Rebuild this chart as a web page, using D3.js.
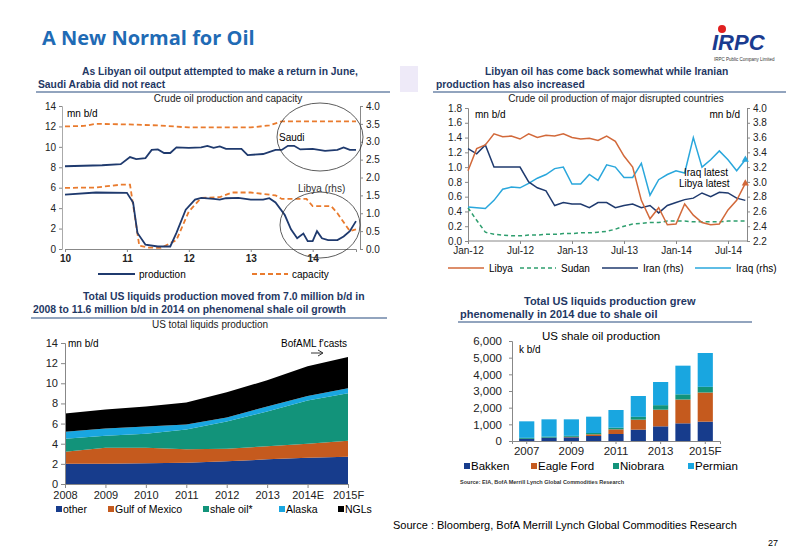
<!DOCTYPE html>
<html><head><meta charset="utf-8">
<script src="https://cdn.jsdelivr.net/npm/d3@7"></script>
<style>body{margin:0;background:#fff}svg{display:block;font-family:"Liberation Sans",Arial,sans-serif}</style>
</head><body><svg id="c" width="800" height="554"></svg>
<script>
const c1Years = [10,11,12,13,14];
const saudiProd = [[10,8.1],[10.3,8.15],[10.6,8.2],[10.9,8.3],[11.05,9.0],[11.15,8.8],[11.3,8.9],[11.4,9.7],[11.5,9.75],[11.6,9.4],[11.7,9.4],[11.8,9.95],[12.0,9.9],[12.2,9.95],[12.3,10.1],[12.4,9.9],[12.5,10.05],[12.6,9.8],[12.85,9.8],[12.95,9.2],[13.2,9.3],[13.4,9.7],[13.5,9.7],[13.6,10.1],[13.7,10.1],[13.8,9.75],[14.0,9.8],[14.2,9.6],[14.4,9.7],[14.5,9.95],[14.6,9.7],[14.7,9.7]];
const saudiCap = [[10,12.0],[10.3,12.05],[10.5,12.25],[11.0,12.2],[11.5,12.1],[12.0,11.9],[12.5,11.9],[13.0,11.9],[13.3,12.1],[13.5,12.5],[14.7,12.5]];
const libyaProd = [[10,1.52],[10.5,1.58],[11.0,1.57],[11.1,1.3],[11.17,0.45],[11.3,0.12],[11.5,0.07],[11.7,0.07],[11.8,0.45],[11.95,1.1],[12.1,1.38],[12.2,1.43],[12.4,1.4],[12.5,1.38],[12.6,1.42],[12.8,1.43],[13.0,1.38],[13.2,1.38],[13.3,1.42],[13.4,1.3],[13.55,0.95],[13.65,0.55],[13.75,0.3],[13.85,0.43],[13.92,0.22],[14.0,0.22],[14.07,0.5],[14.15,0.3],[14.25,0.25],[14.4,0.25],[14.5,0.35],[14.6,0.5],[14.7,0.78]];
const libyaCap = [[10,1.71],[10.5,1.72],[10.9,1.8],[11.05,1.8],[11.2,0.09],[11.35,0.04],[11.55,0.03],[11.8,0.25],[12.0,1.05],[12.2,1.43],[12.5,1.45],[12.7,1.58],[13.0,1.58],[13.4,1.5],[13.5,1.4],[13.9,1.4],[14.0,1.2],[14.3,1.2],[14.4,1.0],[14.6,0.5],[14.7,0.55]];
const c2Ticks = ["Jan-12","Jul-12","Jan-13","Jul-13","Jan-14","Jul-14"];
const libya2 = [0.95,1.25,1.3,1.45,1.41,1.42,1.38,1.45,1.4,1.43,1.42,1.45,1.4,1.38,1.39,1.36,1.42,1.35,1.15,1.0,0.55,0.3,0.45,0.22,0.23,0.5,0.35,0.25,0.22,0.23,0.42,0.55,0.78];
const sudan2 = [0.45,0.28,0.12,0.09,0.08,0.07,0.07,0.08,0.08,0.09,0.09,0.10,0.10,0.11,0.11,0.12,0.13,0.16,0.2,0.23,0.24,0.25,0.25,0.27,0.27,0.27,0.26,0.26,0.26,0.26,0.27,0.27,0.27];
const iran2 = [3.45,3.38,3.5,3.2,3.2,3.2,3.2,3.0,2.92,2.88,2.68,2.72,2.7,2.7,2.65,2.72,2.72,2.65,2.68,2.7,2.65,2.68,2.58,2.68,2.72,2.76,2.78,2.85,2.8,2.86,2.85,2.78,2.75];
const iraq2 = [2.66,2.65,2.64,2.75,2.9,2.93,2.92,2.98,3.05,3.1,3.18,3.2,2.97,2.97,3.1,3.02,3.23,3.2,3.06,3.06,3.25,2.82,3.03,3.1,3.15,3.12,3.6,3.2,3.3,3.42,3.3,3.15,3.3];
const c3Years = ["2008","2009","2010","2011","2012","2013","2014E","2015F"];
const other3 = [2.0,2.0,2.05,2.1,2.25,2.45,2.6,2.7];
const gom3 = [1.2,1.6,1.55,1.35,1.25,1.3,1.4,1.6];
const shale3 = [1.3,1.2,1.4,1.95,2.7,3.45,4.3,4.7];
const alaska3 = [0.7,0.7,0.7,0.5,0.4,0.5,0.45,0.5];
const ngl3 = [1.8,1.9,2.0,2.2,2.5,2.6,2.95,3.1];
const c4Years = ["2007","2008","2009","2010","2011","2012","2013","2014","2015F"];
const bakken4 = [130,200,220,300,420,680,880,1060,1160];
const eagle4 = [0,0,30,100,280,600,1000,1430,1750];
const niob4 = [60,60,60,80,100,170,270,310,340];
const perm4 = [990,1040,990,980,1060,1250,1390,1720,2030];

const svg = d3.select("#c");
const navy="#1f3a6e", orange="#e97b2e";
svg.append("text").attr("x",42).attr("y",45).attr("font-family","'Open Sans',sans-serif").attr("font-weight","bold").attr("font-size",20).attr("fill","#1f6bb5").text("A New Normal for Oil");
svg.append("circle").attr("cx",722).attr("cy",29).attr("r",4).attr("fill","#e02020");
svg.append("text").attr("x",712).attr("y",50).attr("font-family","'Liberation Sans'").attr("font-style","italic").attr("font-weight","bold").attr("font-size",22).attr("fill","#1a3b8f").text("IRPC");
svg.append("text").attr("x",714).attr("y",61).attr("font-size",4.5).attr("fill","#333").text("IRPC Public Company Limited");
svg.append("rect").attr("x",400).attr("y",66).attr("width",18).attr("height",26).attr("fill","#eeeaf8");

function header(lines, x1, x2, yLine, sub, subx, fs){
  lines.forEach(l=>svg.append("text").attr("x",l[0]).attr("y",l[1]).attr("font-weight","bold").attr("font-size",fs||10).attr("fill","#1f3864").text(l[2]));
  svg.append("line").attr("x1",x1).attr("x2",x2).attr("y1",yLine).attr("y2",yLine).attr("stroke","#6e86a8").attr("stroke-width",1.5);
  if(sub) svg.append("text").attr("x",subx).attr("y",yLine+10).attr("text-anchor","middle").attr("font-size",10).attr("fill","#222").text(sub);
}
const axStyle = g=>{g.selectAll("text").attr("font-size",10).attr("fill","#222").attr("font-family","'Liberation Sans',Arial");g.selectAll("path,line").attr("stroke","#888");};

header([[82,75,"As Libyan oil output attempted to make a return in June,"],[38,88,"Saudi Arabia did not react"]],36,390,92,"Crude oil production and capacity",228,10.3);
{
 const x=d3.scaleLinear().domain([10,14.7]).range([65,356]);
 const y=d3.scaleLinear().domain([0,14]).range([249,106]);
 const y2=d3.scaleLinear().domain([0,4]).range([249,106]);
 svg.append("g").attr("transform","translate(62,0)").call(d3.axisLeft(y).tickValues([0,2,4,6,8,10,12,14]).tickSize(3)).call(axStyle).call(g=>g.select(".domain").attr("stroke","#aaa"));
 svg.append("g").attr("transform","translate(360,0)").call(d3.axisRight(y2).tickValues([0,.5,1,1.5,2,2.5,3,3.5,4]).tickFormat(d3.format(".1f")).tickSize(3)).call(axStyle);
 svg.append("g").attr("transform","translate(0,249)").call(d3.axisBottom(x).tickValues(c1Years).tickFormat(d3.format("d")).tickSize(3)).call(axStyle).call(g=>g.selectAll("text").attr("font-weight","bold"));
 const l=d3.line().x(d=>x(d[0])).y(d=>y(d[1]));
 const l2=d3.line().x(d=>x(d[0])).y(d=>y2(d[1]));
 svg.append("path").attr("d",l(saudiCap)).attr("fill","none").attr("stroke",orange).attr("stroke-width",1.8).attr("stroke-dasharray","5,3");
 svg.append("path").attr("d",l2(libyaCap)).attr("fill","none").attr("stroke",orange).attr("stroke-width",1.8).attr("stroke-dasharray","5,3");
 svg.append("path").attr("d",l(saudiProd)).attr("fill","none").attr("stroke",navy).attr("stroke-width",1.8);
 svg.append("path").attr("d",l2(libyaProd)).attr("fill","none").attr("stroke",navy).attr("stroke-width",1.8);
 svg.append("text").attr("x",67).attr("y",117).attr("font-size",10).text("mn b/d");
 svg.append("text").attr("x",279).attr("y",141).attr("font-size",10).text("Saudi");
 svg.append("text").attr("x",298).attr("y",192).attr("font-size",10).attr("fill","#333").text("Libya (rhs)");
 svg.append("ellipse").attr("cx",320).attr("cy",137).attr("rx",43).attr("ry",34).attr("fill","none").attr("stroke","#333").attr("stroke-width",0.8);
 svg.append("ellipse").attr("cx",320).attr("cy",225).attr("rx",40).attr("ry",33).attr("fill","none").attr("stroke","#333").attr("stroke-width",0.8);
 svg.append("line").attr("x1",98).attr("x2",135).attr("y1",274).attr("y2",274).attr("stroke",navy).attr("stroke-width",2);
 svg.append("text").attr("x",139).attr("y",278).attr("font-size",10).text("production");
 svg.append("line").attr("x1",252).attr("x2",288).attr("y1",274).attr("y2",274).attr("stroke",orange).attr("stroke-width",2).attr("stroke-dasharray","5,3");
 svg.append("text").attr("x",292).attr("y",278).attr("font-size",10).text("capacity");
}
header([[485,75,"Libyan oil has come back somewhat while Iranian"],[436,88,"production has also increased"]],433,786,92,"Crude oil production of major disrupted countries",616,10.3);
{
 const x=d3.scaleLinear().domain([0,30]).range([468,728]);
 const y=d3.scaleLinear().domain([0,1.8]).range([241,108]);
 const y2=d3.scaleLinear().domain([2.2,4.0]).range([241,108]);
 svg.append("g").attr("transform","translate(468,0)").call(d3.axisLeft(y).tickValues(d3.range(0,1.81,0.2)).tickFormat(d3.format(".1f")).tickSize(3)).call(axStyle);
 svg.append("g").attr("transform","translate(747,0)").call(d3.axisRight(y2).tickValues(d3.range(2.2,4.01,0.2)).tickFormat(d3.format(".1f")).tickSize(3)).call(axStyle);
 svg.append("g").attr("transform","translate(0,241)").call(d3.axisBottom(x).tickValues([0,6,12,18,24,30]).tickFormat((d,i)=>c2Ticks[i]).tickSize(3)).call(axStyle).call(g=>g.select(".domain").attr("d","M468,0H747"));
 const mk=(arr,sc)=>d3.line().x((d,i)=>x(i)).y(d=>sc(d))(arr);
 svg.append("path").attr("d",mk(sudan2,y)).attr("fill","none").attr("stroke","#2e9e6e").attr("stroke-width",1.5).attr("stroke-dasharray","4,3");
 svg.append("path").attr("d",mk(iraq2,y2)).attr("fill","none").attr("stroke","#2aa7dc").attr("stroke-width",1.5);
 svg.append("path").attr("d",mk(iran2,y2)).attr("fill","none").attr("stroke",navy).attr("stroke-width",1.5);
 svg.append("path").attr("d",mk(libya2,y)).attr("fill","none").attr("stroke","#d2693a").attr("stroke-width",1.5);
 svg.append("path").attr("d",d3.symbol(d3.symbolTriangle,22)()).attr("transform",`translate(${x(32)},${y(libya2[32])})`).attr("fill","#d2693a");
 svg.append("path").attr("d",d3.symbol(d3.symbolTriangle,22)()).attr("transform",`translate(${x(32)},${y2(iraq2[32])})`).attr("fill","#2aa7dc");
 svg.append("text").attr("x",475).attr("y",118).attr("font-size",10).text("mn b/d");
 svg.append("text").attr("x",740).attr("y",118).attr("text-anchor","end").attr("font-size",10).text("mn b/d");
 svg.append("text").attr("x",684).attr("y",176).attr("font-size",10).text("Iraq latest");
 svg.append("text").attr("x",679).attr("y",187).attr("font-size",10).text("Libya latest");
 const lg=[["Libya","#d2693a",null,448,489],["Sudan","#2e9e6e","4,3",520,561],["Iran (rhs)",navy,null,602,643],["Iraq (rhs)","#2aa7dc",null,695,736]];
 lg.forEach(d=>{svg.append("line").attr("x1",d[3]).attr("x2",d[3]+36).attr("y1",268).attr("y2",268).attr("stroke",d[1]).attr("stroke-width",1.5).attr("stroke-dasharray",d[2]);
   svg.append("text").attr("x",d[4]).attr("y",272).attr("font-size",10).text(d[0]);});
}
header([[83,300,"Total US liquids production moved from 7.0 million b/d in"],[33,313,"2008 to 11.6 million b/d in 2014 on phenomenal shale oil growth"]],31,387,318,"US total liquids production",210,10.4);
{
 const x=d3.scalePoint().domain(c3Years).range([65,348]);
 const y=d3.scaleLinear().domain([0,14]).range([484,343]);
 const keys=["other","gom","shale","alaska","ngl"];
 const cols=["#173c8c","#c55a1e","#12937a","#19a6e0","#000"];
 const rows=c3Years.map((yr,i)=>({yr,other:other3[i],gom:gom3[i],shale:shale3[i],alaska:alaska3[i],ngl:ngl3[i]}));
 const st=d3.stack().keys(keys)(rows);
 const ar=d3.area().x(d=>x(d.data.yr)).y0(d=>y(d[0])).y1(d=>y(d[1]));
 st.forEach((s,i)=>svg.append("path").attr("d",ar(s)).attr("fill",cols[i]));
 svg.append("g").attr("transform","translate(65,0)").call(d3.axisLeft(y).tickValues(d3.range(0,15,2)).tickSize(4)).call(axStyle).call(g=>g.selectAll("text").attr("font-size",11));
 svg.append("g").attr("transform","translate(0,484)").call(d3.axisBottom(x).tickSize(4)).call(axStyle).call(g=>g.selectAll("text").attr("font-size",11));
 svg.append("text").attr("x",68).attr("y",347).attr("font-size",10).text("mn b/d");
 svg.append("text").attr("x",281).attr("y",347).attr("font-size",10).text("BofAML f'casts");
 svg.append("path").attr("d","M311,353H322M318,350L323,353L318,356").attr("stroke","#000").attr("fill","none").attr("stroke-width",0.8);
 const names=["other","Gulf of Mexico","shale oil*","Alaska","NGLs"], lx=[56,108,203,279,338];
 names.forEach((n,i)=>{svg.append("rect").attr("x",lx[i]).attr("y",506).attr("width",6).attr("height",6).attr("fill",cols[i]);
   svg.append("text").attr("x",lx[i]+7).attr("y",513).attr("font-size",10.5).text(n);});
}
header([[524,305,"Total US liquids production grew"],[460,318,"phenomenally in 2014 due to shale oil"]],458,752,322,null,0,11);
{
 svg.append("text").attr("x",542).attr("y",340).attr("font-size",11.5).text("US shale oil production");
 const x=d3.scaleBand().domain(c4Years).range([512,720]).padding(0.32);
 const y=d3.scaleLinear().domain([0,6000]).range([441,341]);
 const keys=["b","e","n","p"], cols=["#173c8c","#c55a1e","#12937a","#19a6e0"];
 const rows=c4Years.map((yr,i)=>({yr,b:bakken4[i],e:eagle4[i],n:niob4[i],p:perm4[i]}));
 const st=d3.stack().keys(keys)(rows);
 st.forEach((s,i)=>svg.append("g").selectAll("rect").data(s).join("rect").attr("x",d=>x(d.data.yr)).attr("width",x.bandwidth()).attr("y",d=>y(d[1])).attr("height",d=>y(d[0])-y(d[1])).attr("fill",cols[i]));
 svg.append("g").attr("transform","translate(512,0)").call(d3.axisLeft(y).tickValues(d3.range(0,6001,1000)).tickFormat(d3.format(",")).tickSize(3)).call(axStyle).call(g=>g.selectAll("text").attr("font-size",11.5).attr("dx",-4));
 svg.append("g").attr("transform","translate(0,441)").call(d3.axisBottom(x).tickValues(["2007","2009","2011","2013","2015F"]).tickSize(3)).call(axStyle).call(g=>g.selectAll("text").attr("font-size",11.5));
 svg.append("text").attr("x",519).attr("y",353).attr("font-size",10).text("k b/d");
 const names=["Bakken","Eagle Ford","Niobrara","Permian"], lx=[464,531,613,688];
 names.forEach((n,i)=>{svg.append("rect").attr("x",lx[i]).attr("y",463).attr("width",6).attr("height",6).attr("fill",cols[i]);
   svg.append("text").attr("x",lx[i]+7).attr("y",470).attr("font-size",11.5).text(n);});
 svg.append("text").attr("x",460).attr("y",484).attr("font-size",5.5).attr("font-weight","bold").attr("fill","#333").text("Source:  EIA, BofA Merrill Lynch Global Commodities Research");
}
svg.append("text").attr("x",393).attr("y",529).attr("font-size",11).text("Source : Bloomberg, BofA Merrill Lynch Global Commodities Research");
svg.append("text").attr("x",778).attr("y",546).attr("text-anchor","end").attr("font-size",9).text("27");
</script></body></html>
